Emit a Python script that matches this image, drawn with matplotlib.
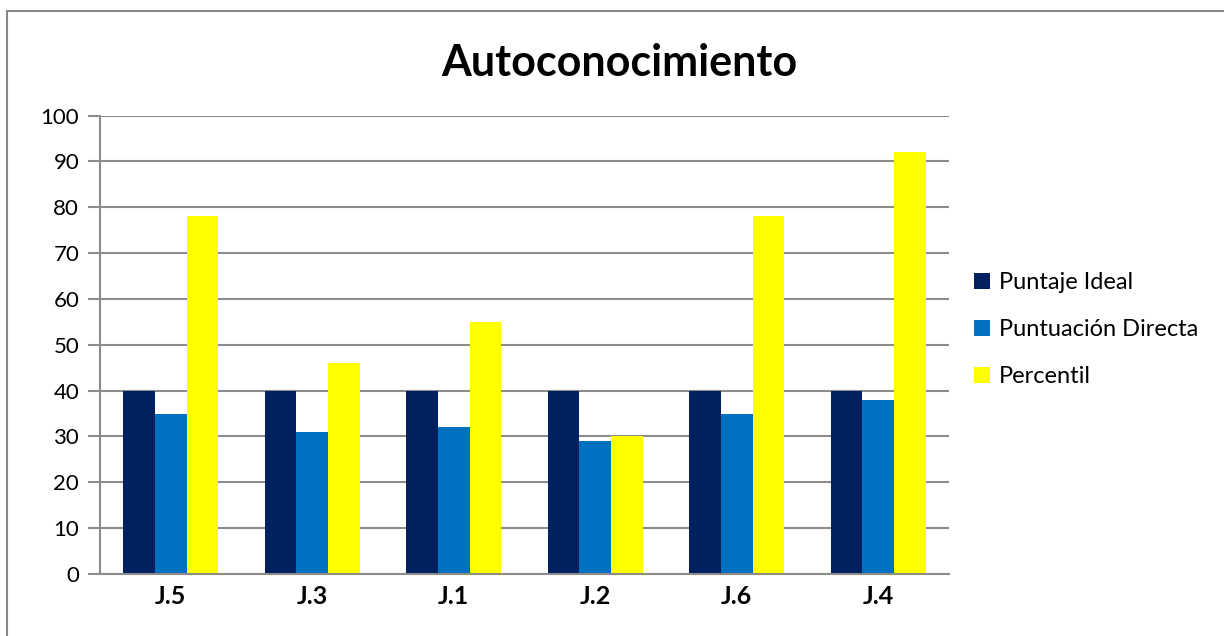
import numpy as np
import matplotlib.pyplot as plt
from matplotlib.patches import Rectangle

categories = ['J.5', 'J.3', 'J.1', 'J.2', 'J.6', 'J.4']
puntaje_ideal = [40, 40, 40, 40, 40, 40]
puntuacion_directa = [35, 31, 32, 29, 35, 38]
percentil = [78, 46, 55, 30, 78, 92]

series = [
    ('Puntaje Ideal', puntaje_ideal, '#002060'),
    ('Puntuación Directa', puntuacion_directa, '#0070C0'),
    ('Percentil', percentil, '#FFFF00'),
]

plt.rcParams['font.family'] = ['Lato', 'DejaVu Sans']

W, H = 1224, 636
fig = plt.figure(figsize=(W / 100, H / 100), dpi=100)

# outer chart frame (only left/top visible in the reference)
fig.patches.append(Rectangle((7 / W, -0.1), 1.2, (H - 11) / H + 0.1,
                             transform=fig.transFigure, fill=False,
                             edgecolor='#888888', linewidth=1.5))

ax = fig.add_axes([100 / W, (H - 574) / H, 849 / W, (574 - 115.5) / H])

x = np.arange(len(categories))
width = 0.223
for i, (name, vals, col) in enumerate(series):
    ax.bar(x + (i - 1) * width, vals, width, color=col, label=name, zorder=2)

ax.set_xlim(-0.5, len(categories) - 0.5)
ax.set_ylim(0, 100)
ax.set_yticks(range(0, 101, 10))
ax.yaxis.grid(True, color='#8c8c8c', linewidth=1.5, zorder=0)
ax.set_xticks(x)
ax.set_xticklabels(categories, fontsize=18, fontweight='bold')
ax.tick_params(axis='x', length=0, pad=8)
ax.tick_params(axis='y', length=9, width=1.5, color='#8c8c8c', labelsize=16, pad=6)
for s in ['top', 'right']:
    ax.spines[s].set_visible(False)
for s in ['left', 'bottom']:
    ax.spines[s].set_color('#8c8c8c')
    ax.spines[s].set_linewidth(1.5)

fig.text(619 / W, 1 - 63 / H, 'Autoconocimiento', ha='center', va='center',
         fontsize=31, fontweight='bold')

ax.legend(loc='upper left', bbox_to_anchor=(965 / W, 1 - 263 / H),
          bbox_transform=fig.transFigure, frameon=False, fontsize=17,
          handlelength=0.65, handleheight=0.65, handletextpad=0.4,
          labelspacing=1.1, borderaxespad=0)

fig.savefig('out.png', dpi=100)
